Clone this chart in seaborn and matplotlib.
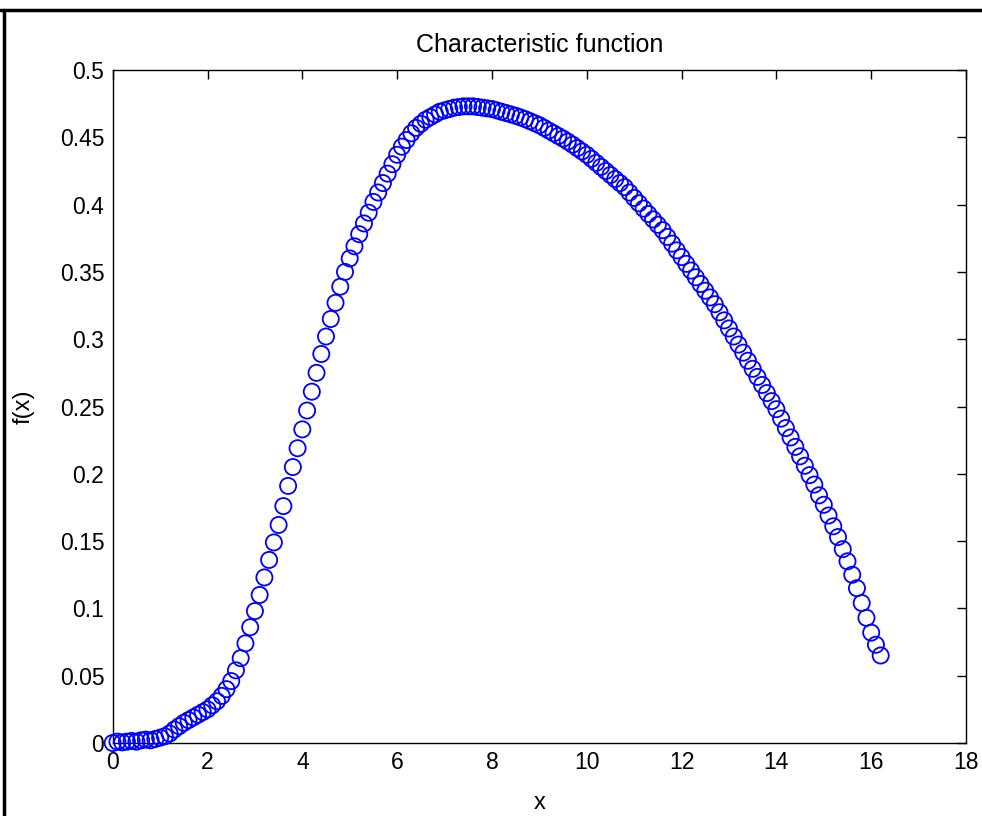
import matplotlib
matplotlib.use("Agg")
import matplotlib.pyplot as plt
import seaborn as sns
import pandas as pd
from matplotlib.lines import Line2D

# ---- data ----
x_values = [
    0.0, 0.1, 0.2, 0.3, 0.4, 0.5, 0.6, 0.7, 0.8, 0.9,
    1.0, 1.1, 1.2, 1.3, 1.4, 1.5, 1.6, 1.7, 1.8, 1.9,
    2.0, 2.1, 2.2, 2.3, 2.4, 2.5, 2.6, 2.7, 2.8, 2.9,
    3.0, 3.1, 3.2, 3.3, 3.4, 3.5, 3.6, 3.7, 3.8, 3.9,
    4.0, 4.1, 4.2, 4.3, 4.4, 4.5, 4.6, 4.7, 4.8, 4.9,
    5.0, 5.1, 5.2, 5.3, 5.4, 5.5, 5.6, 5.7, 5.8, 5.9,
    6.0, 6.1, 6.2, 6.3, 6.4, 6.5, 6.6, 6.7, 6.8, 6.9,
    7.0, 7.1, 7.2, 7.3, 7.4, 7.5, 7.6, 7.7, 7.8, 7.9,
    8.0, 8.1, 8.2, 8.3, 8.4, 8.5, 8.6, 8.7, 8.8, 8.9,
    9.0, 9.1, 9.2, 9.3, 9.4, 9.5, 9.6, 9.7, 9.8, 9.9,
    10.0, 10.1, 10.2, 10.3, 10.4, 10.5, 10.6, 10.7, 10.8, 10.9,
    11.0, 11.1, 11.2, 11.3, 11.4, 11.5, 11.6, 11.7, 11.8, 11.9,
    12.0, 12.1, 12.2, 12.3, 12.4, 12.5, 12.6, 12.7, 12.8, 12.9,
    13.0, 13.1, 13.2, 13.3, 13.4, 13.5, 13.6, 13.7, 13.8, 13.9,
    14.0, 14.1, 14.2, 14.3, 14.4, 14.5, 14.6, 14.7, 14.8, 14.9,
    15.0, 15.1, 15.2, 15.3, 15.4, 15.5, 15.6, 15.7, 15.8, 15.9,
    16.0, 16.1, 16.2,
]
f_values = [
    0.000, 0.001, 0.0005, 0.001, 0.0015, 0.001, 0.002, 0.0025, 0.002, 0.003,
    0.004, 0.005, 0.007, 0.010, 0.0125, 0.015, 0.017, 0.019, 0.021, 0.023,
    0.025, 0.028, 0.031, 0.035, 0.040, 0.046, 0.054, 0.063, 0.074, 0.086,
    0.098, 0.110, 0.123, 0.136, 0.149, 0.162, 0.176, 0.191, 0.205, 0.219,
    0.233, 0.247, 0.261, 0.275, 0.289, 0.302, 0.315, 0.327, 0.339, 0.350,
    0.360, 0.369, 0.378, 0.386, 0.394, 0.402, 0.409, 0.416, 0.423, 0.430,
    0.437, 0.443, 0.448, 0.453, 0.457, 0.460, 0.463, 0.465, 0.467, 0.469,
    0.470, 0.471, 0.472, 0.4725, 0.473, 0.473, 0.473, 0.4725, 0.472, 0.4715,
    0.471, 0.470, 0.469, 0.468, 0.467, 0.466, 0.4648, 0.4635, 0.462, 0.4605,
    0.459, 0.457, 0.455, 0.453, 0.451, 0.449, 0.4468, 0.4445, 0.442, 0.4395,
    0.437, 0.434, 0.431, 0.428, 0.425, 0.422, 0.419, 0.416, 0.413, 0.409,
    0.405, 0.401, 0.397, 0.393, 0.389, 0.385, 0.381, 0.376, 0.371, 0.366,
    0.361, 0.356, 0.351, 0.346, 0.341, 0.336, 0.331, 0.326, 0.320, 0.314,
    0.308, 0.302, 0.296, 0.290, 0.284, 0.278, 0.272, 0.266, 0.260, 0.254,
    0.248, 0.241, 0.234, 0.227, 0.220, 0.213, 0.206, 0.199, 0.192, 0.184,
    0.177, 0.169, 0.161, 0.153, 0.144, 0.135, 0.125, 0.115, 0.104, 0.093,
    0.082, 0.073, 0.065,
]
x_ticks = [0, 2, 4, 6, 8, 10, 12, 14, 16, 18]
x_tick_labels = ["0", "2", "4", "6", "8", "10", "12", "14", "16", "18"]
y_ticks = [0, 0.05, 0.1, 0.15, 0.2, 0.25, 0.3, 0.35, 0.4, 0.45, 0.5]
y_tick_labels = ["0", "0.05", "0.1", "0.15", "0.2", "0.25", "0.3", "0.35", "0.4", "0.45", "0.5"]
title_text = "Characteristic function"
x_label = "x"
y_label = "f(x)"

sns.set_theme(style="white")
plt.rcParams["font.family"] = ["Liberation Sans", "DejaVu Sans"]

W, H = 982, 816
fig = plt.figure(figsize=(W / 100, H / 100), dpi=100)
fig.patch.set_facecolor("white")
left, right, top, bottom = 112.7, 966, 70, 743
ax = fig.add_axes([left / W, 1 - bottom / H, (right - left) / W, (bottom - top) / H])
ax.set_facecolor("white")

df = pd.DataFrame({"x": x_values, "f": f_values})
sns.scatterplot(data=df, x="x", y="f", ax=ax, marker="o", s=135,
                facecolor="none", edgecolor="#0000ff", linewidth=1.3,
                clip_on=False, zorder=3)

ax.set_xlim(0, 18)
ax.set_ylim(0, 0.5)
ax.set_xticks(x_ticks)
ax.set_xticklabels(x_tick_labels)
ax.set_yticks(y_ticks)
ax.set_yticklabels(y_tick_labels)
ax.tick_params(direction="in", length=6.5, width=1.0, top=True, right=True,
               labelsize=16.5, colors="black", pad=6)
for sp in ax.spines.values():
    sp.set_color("black")
    sp.set_linewidth(1.0)
    sp.set_visible(True)

ax.set_title(title_text, fontsize=18, color="black", pad=13)
ax.set_xlabel(x_label, fontsize=17, color="black", labelpad=13)
ax.set_ylabel(y_label, fontsize=17, color="black")
ax.yaxis.set_label_coords(-0.091, 0.5)

# window frame lines of the screenshot
fig.add_artist(Line2D([0, 1], [1 - 9.5 / H, 1 - 9.5 / H], transform=fig.transFigure,
                      color="black", linewidth=2.5))
fig.add_artist(Line2D([4 / W, 4 / W], [0, 1 - 9.5 / H], transform=fig.transFigure,
                      color="black", linewidth=2.5))

fig.savefig("out.png", dpi=100, facecolor="white")
